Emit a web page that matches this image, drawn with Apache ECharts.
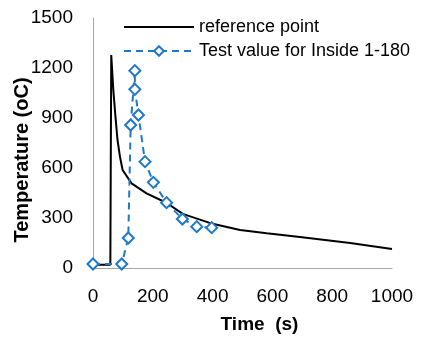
<!DOCTYPE html>
<html>
<head>
<meta charset="utf-8">
<script src="https://cdn.jsdelivr.net/npm/echarts@6/dist/echarts.min.js"></script>
<style>
  html, body { margin: 0; padding: 0; background: #ffffff; }
  #chart { width: 421px; height: 339px; }
</style>
</head>
<body>
<div id="chart"></div>
<script>
// reference curve (time s, temperature oC)
const refTime = [0, 58, 61, 68, 75, 82, 90, 99, 129, 179, 247, 300, 400, 492, 581, 692, 860, 1000]
const refTemp = [20, 20, 1278, 1068, 910, 768, 670, 588, 508, 448, 390, 325, 265, 228, 208, 186, 150, 114]

// test values for Inside 1-180
const testTime = [0, 96, 118, 126, 140, 140, 152, 174, 202, 246, 299, 347, 397]
const testTemp = [24, 24, 180, 858, 1184, 1072, 918, 638, 514, 392, 294, 248, 242]

const xTicks = [0, 200, 400, 600, 800, 1000]
const yTicks = [0, 300, 600, 900, 1200, 1500]

const font = 'Liberation Sans, Arial, sans-serif'
const blue = '#1f78c8'
const chart = echarts.init(document.getElementById('chart'), null, { renderer: 'canvas' })

chart.setOption({
  animation: false,
  grid: { left: 93, right: 29, top: 18, bottom: 71, outerBoundsMode: 'none', containLabel: false },
  legend: {
    left: 118,
    top: 13,
    orient: 'vertical',
    itemWidth: 70,
    itemHeight: 12,
    itemGap: 6,
    textStyle: { fontFamily: font, fontSize: 18, color: '#000' },
    data: [
      { name: 'reference point', itemStyle: { color: 'rgba(0,0,0,0)', borderWidth: 0 } },
      { name: 'Test value for Inside 1-180' }
    ]
  },
  xAxis: {
    type: 'value',
    min: xTicks[0],
    max: xTicks[xTicks.length - 1],
    interval: 200,
    name: 'Time  (s)',
    nameLocation: 'middle',
    nameGap: 47,
    nameMoveOverlap: false,
    nameTextStyle: { fontFamily: font, fontSize: 19, fontWeight: 'bold', color: '#000', padding: [0, 0, 0, 34] },
    axisLine: { lineStyle: { color: '#a6a6a6', width: 1 } },
    axisTick: { show: false },
    splitLine: { show: false },
    axisLabel: { fontFamily: font, fontSize: 19, color: '#000', margin: 19, formatter: v => String(v) }
  },
  yAxis: {
    type: 'value',
    min: yTicks[0],
    max: yTicks[yTicks.length - 1],
    interval: 300,
    name: 'Temperature (oC)',
    nameLocation: 'middle',
    nameGap: 61,
    nameMoveOverlap: false,
    nameTextStyle: { fontFamily: font, fontSize: 20, fontWeight: 'bold', color: '#000', padding: [0, 34, 0, 0] },
    axisLine: { show: true, lineStyle: { color: '#a6a6a6', width: 1 } },
    axisTick: { show: false },
    splitLine: { show: false },
    axisLabel: { fontFamily: font, fontSize: 19, color: '#000', margin: 20, formatter: v => String(v) }
  },
  series: [
    {
      name: 'reference point',
      type: 'line',
      symbol: 'none',
      data: refTime.map((t, i) => [t, refTemp[i]]),
      lineStyle: { color: '#000', width: 2 },
      itemStyle: { color: '#000' }
    },
    {
      name: 'Test value for Inside 1-180',
      type: 'line',
      symbol: 'diamond',
      symbolSize: 11,
      data: testTime.map((t, i) => [t, testTemp[i]]),
      lineStyle: { color: blue, width: 2, type: [7, 5] },
      itemStyle: { color: '#fff', borderColor: blue, borderWidth: 2 }
    }
  ]
})
</script>
</body>
</html>
